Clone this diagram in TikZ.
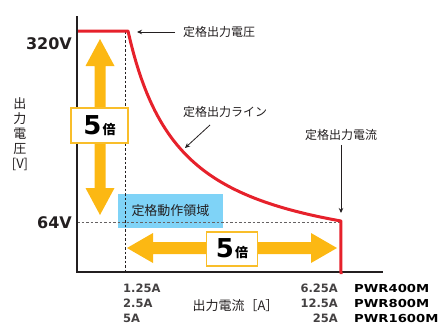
\documentclass[tikz,border=0pt]{standalone}
\usepackage{fontspec}
\setmainfont{DejaVu Sans}
\newfontfamily\jp{Noto Sans CJK JP}
\usetikzlibrary{arrows.meta}
\definecolor{curvered}{HTML}{E6212B}
\definecolor{arrowyellow}{HTML}{FCB813}
\definecolor{boxyellow}{HTML}{F9BE2A}
\definecolor{opblue}{HTML}{7FD3F7}
\definecolor{ink}{HTML}{231F20}
\begin{document}
\begin{tikzpicture}[x=1pt,y=-1pt,
  lbl/.style={inner sep=0pt, text=ink, font=\jp\fontsize{12}{14}\selectfont},
  num/.style={inner sep=0pt, text=ink!85, font=\bfseries\fontsize{11.5}{13}\selectfont},
  pwr/.style={inner sep=0pt, text=black, font=\bfseries\fontsize{11}{13}\selectfont},
  volt/.style={inner sep=0pt, text=ink, font=\bfseries\fontsize{16}{18}\selectfont},
  callout/.style={-{Stealth[length=5pt,width=4.5pt]}, line width=0.8pt, ink},
  factorbox/.style={draw=boxyellow, line width=1.6pt, fill=white, minimum width=57pt, minimum height=35pt, inner sep=0pt},
  yarrow/.style={fill=arrowyellow},
  dashline/.style={line width=0.7pt, dash pattern=on 2.5pt off 2pt},
  axisline/.style={line width=1.2pt, ink},
  redline/.style={line width=3pt, curvered, line join=round},
  regionbox/.style={fill=opblue, minimum width=105pt, minimum height=34pt, inner sep=0pt, text=ink, font=\jp\fontsize{13}{15}\selectfont}
]
\useasboundingbox (0,0) rectangle (440,324);

% operating region
\node[regionbox] (region) at (170.5,211) {定格動作領域};

% dashed guide lines
\draw[dashline, ink] (125,31) -- (125,272);
\draw[dashline, ink!70] (77,222) -- (341,222);

% yellow double arrows
\fill[yarrow] (100,39) -- (114.5,66) -- (105.5,66) -- (105.5,188) -- (114.5,188) -- (100,215)
  -- (85.5,188) -- (94.5,188) -- (94.5,66) -- (85.5,66) -- cycle;
\fill[yarrow] (127,248) -- (153,233) -- (153,242) -- (311,242) -- (311,233) -- (337,248)
  -- (311,263) -- (311,254) -- (153,254) -- (153,263) -- cycle;

% axes
\draw[axisline] (77,16) -- (77,272) -- (383,272);

% rated output curve
\draw[redline] (78,31) -- (128,31)
  -- plot[domain=1.25:6.25,samples=80] ({128+(\x-1.25)*42.6},{31+(320-400/\x)*0.7422})
  -- (341,274);

% factor boxes
\node[factorbox] (boxV) at (99.5,125.5) {{\bfseries\fontsize{26}{26}\selectfont 5}\kern1pt{\jp\bfseries\fontsize{13}{13}\selectfont 倍}};
\node[factorbox, minimum width=51pt, minimum height=34pt] (boxI) at (232,249) {{\bfseries\fontsize{26}{26}\selectfont 5}\kern1pt{\jp\bfseries\fontsize{13}{13}\selectfont 倍}};

% callouts
\node[lbl, anchor=west] (lblV) at (183,32) {定格出力電圧};
\coordinate (tipV) at (137,32);
\draw[callout] ([xshift=-8pt]lblV.west) -- (tipV);

\node[lbl] (lblL) at (225,112) {定格出力ライン};
\coordinate (startL) at (210,125);
\coordinate (tipL) at (185,148);
\draw[callout] (startL) -- (tipL);

\node[lbl] (lblI) at (341,135) {定格出力電流};
\coordinate (tipI) at (341,213);
\draw[callout, line width=1pt] ([yshift=-4pt]lblI.south) -- (tipI);

% voltage labels
\node[volt, anchor=east] (v320) at (72,44) {320V};
\node[volt, anchor=east] (v64) at (72,223) {64V};

% y-axis label
\node[lbl, align=center, font=\jp\fontsize{13}{15}\selectfont] (ylab) at (20,134) {出\\力\\電\\圧\\{}[V]};

% x-axis label
\node[lbl, font=\jp\fontsize{13}{15}\selectfont] (xlab) at (235.5,306) {出力電流［A］};

% current values
\node[num, anchor=west] (a1) at (123,288) {1.25A};
\node[num, anchor=west] (a2) at (123,303) {2.5A};
\node[num, anchor=west] (a3) at (123,318) {5A};
\node[num, anchor=east] (b1) at (338,288) {6.25A};
\node[num, anchor=east] (b2) at (338,303) {12.5A};
\node[num, anchor=east] (b3) at (338,318) {25A};
\node[pwr, anchor=west] (m1) at (354,288) {\scalebox{1.2}[1]{PWR400M}};
\node[pwr, anchor=west] (m2) at (354,303) {\scalebox{1.2}[1]{PWR800M}};
\node[pwr, anchor=west] (m3) at (354,318) {\scalebox{1.2}[1]{PWR1600M}};
\end{tikzpicture}
\end{document}
